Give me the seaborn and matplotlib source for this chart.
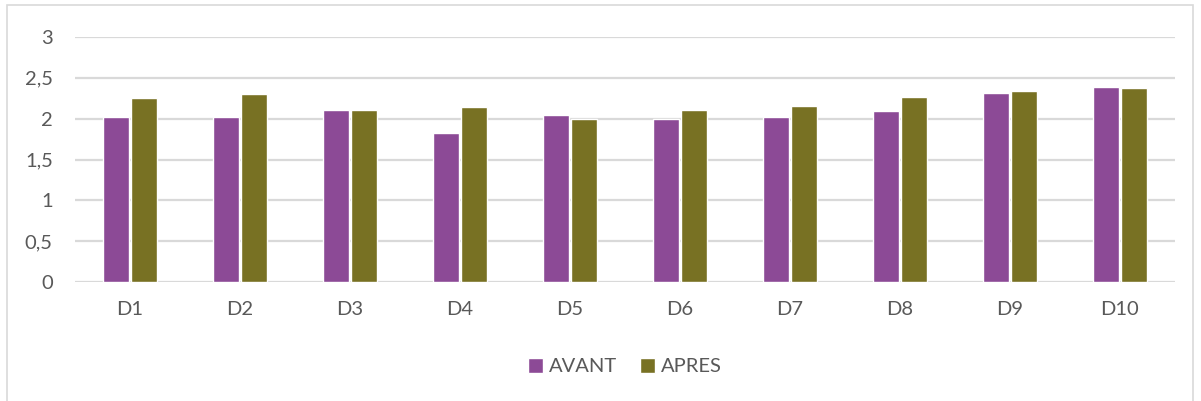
import pandas as pd
import matplotlib
matplotlib.use("Agg")
import matplotlib.pyplot as plt
import seaborn as sns
from matplotlib.patches import Rectangle
from matplotlib.ticker import FuncFormatter

# values
categories = ["D1", "D2", "D3", "D4", "D5", "D6", "D7", "D8", "D9", "D10"]
avant = [2.02, 2.02, 2.11, 1.83, 2.05, 2.00, 2.02, 2.09, 2.32, 2.39]
apres = [2.25, 2.30, 2.10, 2.14, 1.99, 2.11, 2.16, 2.27, 2.34, 2.37]
series_names = ["AVANT", "APRES"]
colors = ["#8C4A96", "#787123"]

df = pd.DataFrame({
    "cat": categories * 2,
    "val": avant + apres,
    "serie": [series_names[0]] * len(categories) + [series_names[1]] * len(categories),
})

sns.set_theme(style="white")
plt.rcParams["font.family"] = ["Lato", "DejaVu Sans"]
text_col = "#595959"

fig = plt.figure(figsize=(12.01, 4.01), dpi=100)
ax = fig.add_axes([75 / 1201, 1 - 282 / 401, 1100 / 1201, 245 / 401])

sns.barplot(data=df, x="cat", y="val", hue="serie", palette=colors,
            width=0.52, gap=0.08, ax=ax, saturation=1, legend=True)

ax.set_ylim(0, 3)
ax.set_yticks([0, 0.5, 1, 1.5, 2, 2.5, 3])
ax.yaxis.set_major_formatter(FuncFormatter(lambda v, p: f"{v:g}".replace(".", ",")))
ax.grid(axis="y", color="#D9D9D9", linewidth=1.6)
ax.set_axisbelow(True)
for s in ax.spines.values():
    s.set_visible(False)
ax.set_xlabel("")
ax.set_ylabel("")
ax.tick_params(axis="both", length=0, labelsize=14.5, colors=text_col)
ax.tick_params(axis="y", pad=16)
ax.tick_params(axis="x", pad=14)

leg = ax.legend(loc="center", bbox_to_anchor=(0.5, -0.345), ncol=2, frameon=False,
                fontsize=14.5, handlelength=0.75, handleheight=0.75,
                handletextpad=0.3, columnspacing=1.1)
for t in leg.get_texts():
    t.set_color(text_col)

fig.patches.append(Rectangle((7 / 1201, -0.01), 1186 / 1201, 1 - 5 / 401 + 0.01,
                             transform=fig.transFigure, fill=False,
                             edgecolor="#D9D9D9", linewidth=1.2))

fig.savefig("out.png", dpi=100)
